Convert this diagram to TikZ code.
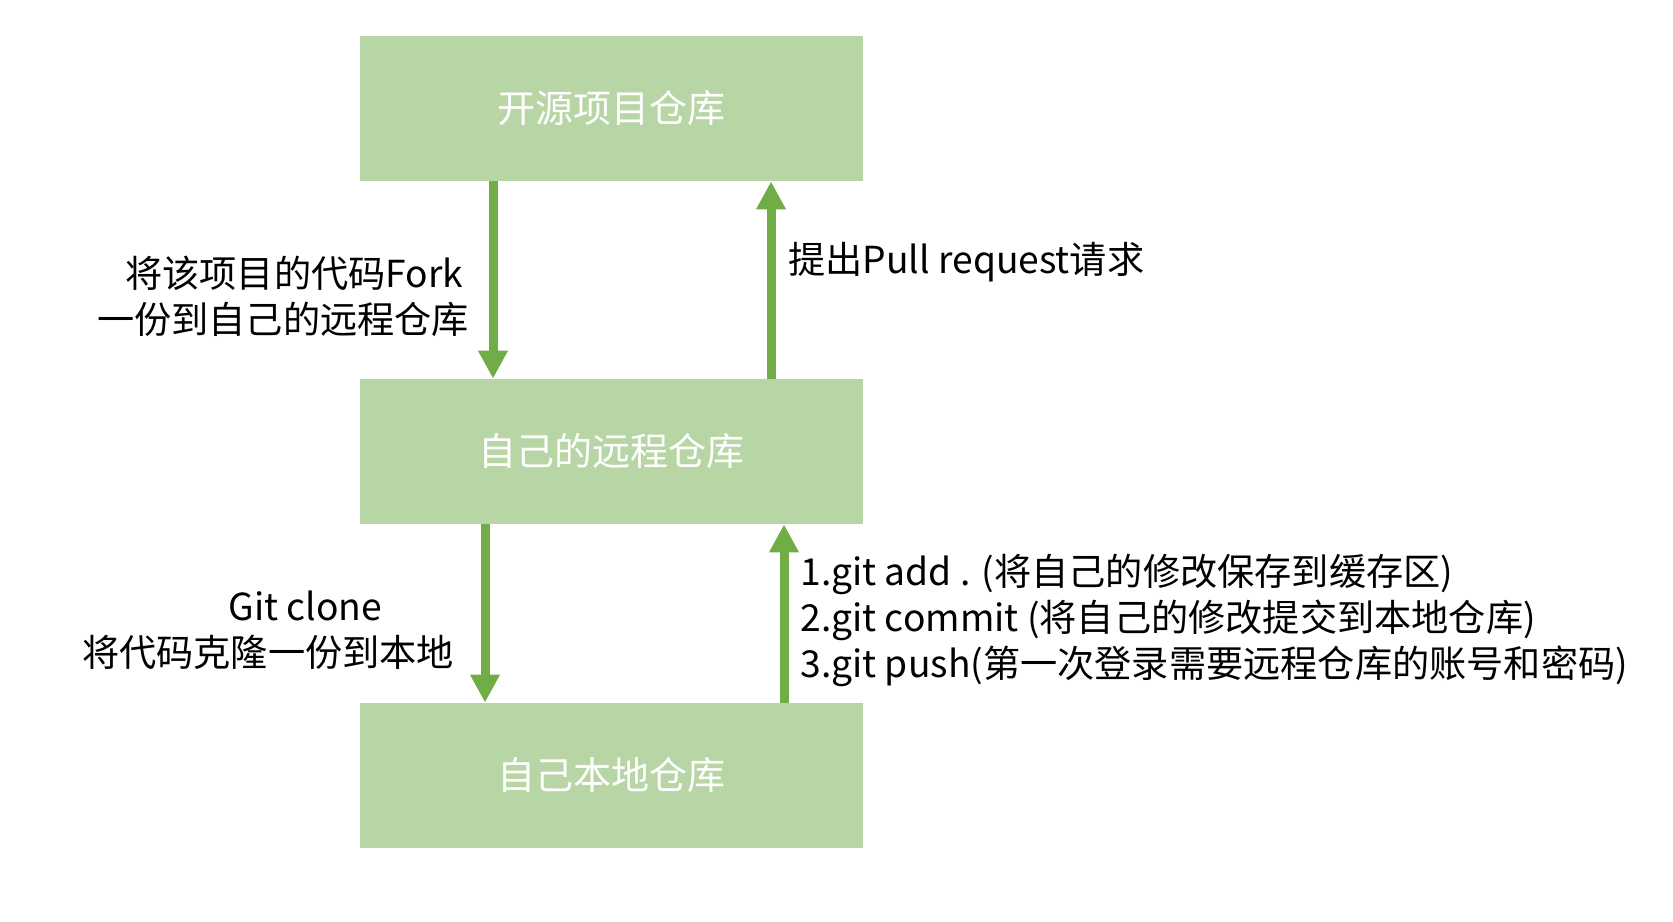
\documentclass[tikz,border=0pt]{standalone}
\usepackage{fontspec}
\setmainfont{Noto Sans CJK SC}
\usetikzlibrary{arrows.meta,positioning}

\definecolor{boxgreen}{HTML}{B8D6A5}
\definecolor{arrowgreen}{HTML}{70AD47}

\begin{document}
\begin{tikzpicture}[x=0.5pt,y=-0.5pt,
    repo/.style={fill=boxgreen,minimum width=251.5pt,minimum height=72.5pt,
        text=white,font=\fontsize{19}{22}\selectfont},
    flow/.style={draw=arrowgreen,line width=4.5pt,
        -{Triangle[width=14pt,length=14pt]},shorten >=0pt},
    note/.style={font=\fontsize{18.6}{23}\selectfont,inner sep=0pt}]
    \useasboundingbox (0,0) rectangle (1673,921);
    % the three repositories
    \node[repo] (upstream) at (611.5,108.5) {开源项目仓库};
    \node[repo] (origin) at (611.5,451.5) {自己的远程仓库};
    \node[repo] (local) at (611.5,775.5) {自己本地仓库};

    % fork and pull request
    \draw[flow] ([xshift=-59.25pt]upstream.south) -- ([xshift=-59.25pt]origin.north);
    \draw[flow] ([xshift=79.75pt]origin.north) -- ([xshift=79.75pt]upstream.south);
    \node[note,align=center] (forklabel) at (283,296) {\hspace*{0.6em}将该项目的代码Fork\\一份到自己的远程仓库};
    \node[note,anchor=west] (pulllabel) at (788,262) {提出Pull request请求};

    % clone and push
    \draw[flow] ([xshift=-63.25pt]origin.south) -- ([xshift=-63.25pt]local.north);
    \draw[flow] ([xshift=86.25pt]local.north) -- ([xshift=86.25pt]origin.south);
    \node[note,align=center] (clonelabel) at (268,630) {\hspace*{2em}Git clone\\将代码克隆一份到本地};
    \node[note,align=left,anchor=west] (pushlabel) at (800,620) {1.git add . (将自己的修改保存到缓存区)\\2.git commit (将自己的修改提交到本地仓库)\\3.git push(第一次登录需要远程仓库的账号和密码)};
\end{tikzpicture}
\end{document}
